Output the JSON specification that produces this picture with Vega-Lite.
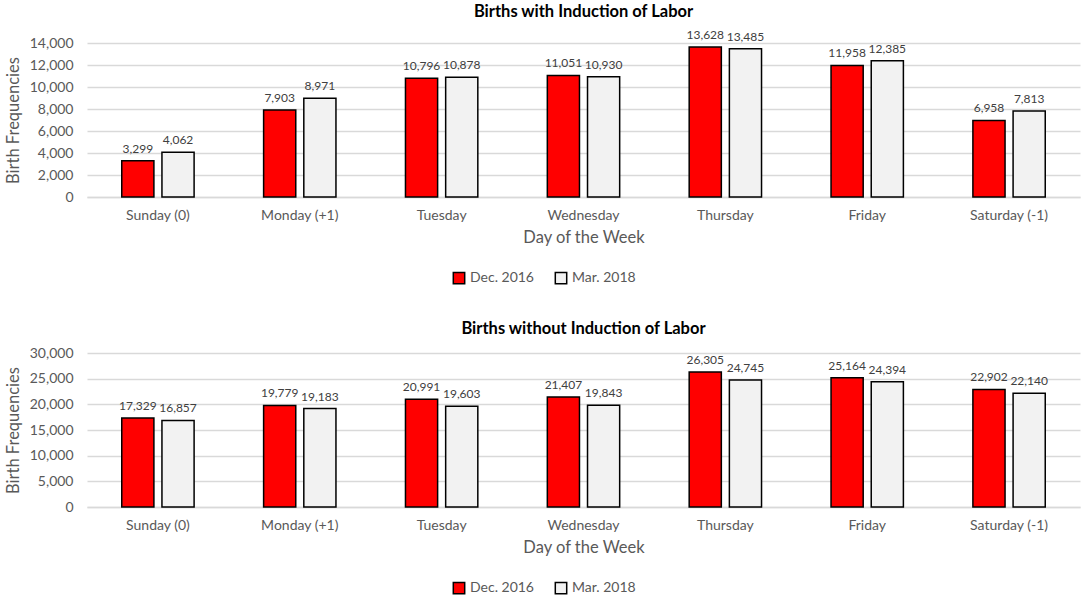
{
  "$schema": "https://vega.github.io/schema/vega-lite/v6.json",
  "background": "white",
  "padding": {"left": 5, "top": 3, "right": 4, "bottom": 2},
  "spacing": 33,
  "config": {
    "font": "Lato",
    "view": {"stroke": null},
    "title": {"fontSize": 16.5, "fontWeight": "bold", "color": "#000000", "anchor": "middle", "offset": 9},
    "axis": {"labelColor": "#595959", "titleColor": "#595959", "labelFontSize": 14, "titleFontSize": 16.5, "titleFontWeight": "normal"},
    "legend": {"labelColor": "#595959", "labelFontSize": 14}
  },
  "datasets": {
    "induced": [
      {"day": "Sunday (0)", "series": "Dec. 2016", "births": 3299},
      {"day": "Sunday (0)", "series": "Mar. 2018", "births": 4062},
      {"day": "Monday (+1)", "series": "Dec. 2016", "births": 7903},
      {"day": "Monday (+1)", "series": "Mar. 2018", "births": 8971},
      {"day": "Tuesday", "series": "Dec. 2016", "births": 10796},
      {"day": "Tuesday", "series": "Mar. 2018", "births": 10878},
      {"day": "Wednesday", "series": "Dec. 2016", "births": 11051},
      {"day": "Wednesday", "series": "Mar. 2018", "births": 10930},
      {"day": "Thursday", "series": "Dec. 2016", "births": 13628},
      {"day": "Thursday", "series": "Mar. 2018", "births": 13485},
      {"day": "Friday", "series": "Dec. 2016", "births": 11958},
      {"day": "Friday", "series": "Mar. 2018", "births": 12385},
      {"day": "Saturday (-1)", "series": "Dec. 2016", "births": 6958},
      {"day": "Saturday (-1)", "series": "Mar. 2018", "births": 7813}
    ],
    "notInduced": [
      {"day": "Sunday (0)", "series": "Dec. 2016", "births": 17329},
      {"day": "Sunday (0)", "series": "Mar. 2018", "births": 16857},
      {"day": "Monday (+1)", "series": "Dec. 2016", "births": 19779},
      {"day": "Monday (+1)", "series": "Mar. 2018", "births": 19183},
      {"day": "Tuesday", "series": "Dec. 2016", "births": 20991},
      {"day": "Tuesday", "series": "Mar. 2018", "births": 19603},
      {"day": "Wednesday", "series": "Dec. 2016", "births": 21407},
      {"day": "Wednesday", "series": "Mar. 2018", "births": 19843},
      {"day": "Thursday", "series": "Dec. 2016", "births": 26305},
      {"day": "Thursday", "series": "Mar. 2018", "births": 24745},
      {"day": "Friday", "series": "Dec. 2016", "births": 25164},
      {"day": "Friday", "series": "Mar. 2018", "births": 24394},
      {"day": "Saturday (-1)", "series": "Dec. 2016", "births": 22902},
      {"day": "Saturday (-1)", "series": "Mar. 2018", "births": 22140}
    ]
  },
  "resolve": {"scale": {"color": "independent"}, "legend": {"color": "independent"}},
  "vconcat": [
    {
      "title": "Births with Induction of Labor",
      "width": 993,
      "height": 154,
      "data": {"name": "induced"},
      "encoding": {
        "x": {
          "field": "day", "type": "nominal",
          "sort": ["Sunday (0)", "Monday (+1)", "Tuesday", "Wednesday", "Thursday", "Friday", "Saturday (-1)"],
          "scale": {"paddingInner": 0.49, "paddingOuter": 0.245},
          "title": "Day of the Week",
          "axis": {"labelAngle": 0, "ticks": false, "domainColor": "#D9D9D9", "domainWidth": 1.5, "labelPadding": 11, "titlePadding": 7}
        },
        "xOffset": {"field": "series", "type": "nominal", "scale": {"paddingInner": 0.2, "paddingOuter": 0}},
        "y": {
          "field": "births", "type": "quantitative",
          "scale": {"domain": [0, 14000]},
          "title": "Birth Frequencies",
          "axis": {"tickCount": 7, "format": ",d", "ticks": false, "domain": false, "gridColor": "#D9D9D9", "gridWidth": 1.5, "labelPadding": 14, "titlePadding": 8}
        }
      },
      "layer": [
        {
          "mark": {"type": "bar", "stroke": "#000000", "strokeWidth": 1.5},
          "encoding": {
            "color": {
              "field": "series", "type": "nominal",
              "scale": {"domain": ["Dec. 2016", "Mar. 2018"], "range": ["#FF0000", "#F2F2F2"]},
              "legend": {"orient": "none", "legendX": 365, "legendY": 228, "direction": "horizontal", "title": null, "symbolType": "square", "symbolStrokeColor": "#000000", "symbolStrokeWidth": 1.5, "symbolSize": 130, "columnPadding": 18}
            }
          }
        },
        {
          "mark": {"type": "text", "baseline": "bottom", "dy": -5, "fontSize": 12, "color": "#404040"},
          "encoding": {"text": {"field": "births", "type": "quantitative", "format": ","}}
        }
      ]
    },
    {
      "title": "Births without Induction of Labor",
      "width": 993,
      "height": 154,
      "data": {"name": "notInduced"},
      "encoding": {
        "x": {
          "field": "day", "type": "nominal",
          "sort": ["Sunday (0)", "Monday (+1)", "Tuesday", "Wednesday", "Thursday", "Friday", "Saturday (-1)"],
          "scale": {"paddingInner": 0.49, "paddingOuter": 0.245},
          "title": "Day of the Week",
          "axis": {"labelAngle": 0, "ticks": false, "domainColor": "#D9D9D9", "domainWidth": 1.5, "labelPadding": 11, "titlePadding": 7}
        },
        "xOffset": {"field": "series", "type": "nominal", "scale": {"paddingInner": 0.2, "paddingOuter": 0}},
        "y": {
          "field": "births", "type": "quantitative",
          "scale": {"domain": [0, 30000]},
          "title": "Birth Frequencies",
          "axis": {"tickCount": 6, "format": ",d", "ticks": false, "domain": false, "gridColor": "#D9D9D9", "gridWidth": 1.5, "labelPadding": 14, "titlePadding": 8}
        }
      },
      "layer": [
        {
          "mark": {"type": "bar", "stroke": "#000000", "strokeWidth": 1.5},
          "encoding": {
            "color": {
              "field": "series", "type": "nominal",
              "scale": {"domain": ["Dec. 2016", "Mar. 2018"], "range": ["#FF0000", "#F2F2F2"]},
              "legend": {"orient": "none", "legendX": 365, "legendY": 228, "direction": "horizontal", "title": null, "symbolType": "square", "symbolStrokeColor": "#000000", "symbolStrokeWidth": 1.5, "symbolSize": 130, "columnPadding": 18}
            }
          }
        },
        {
          "mark": {"type": "text", "baseline": "bottom", "dy": -5, "fontSize": 12, "color": "#404040"},
          "encoding": {"text": {"field": "births", "type": "quantitative", "format": ","}}
        }
      ]
    }
  ]
}
